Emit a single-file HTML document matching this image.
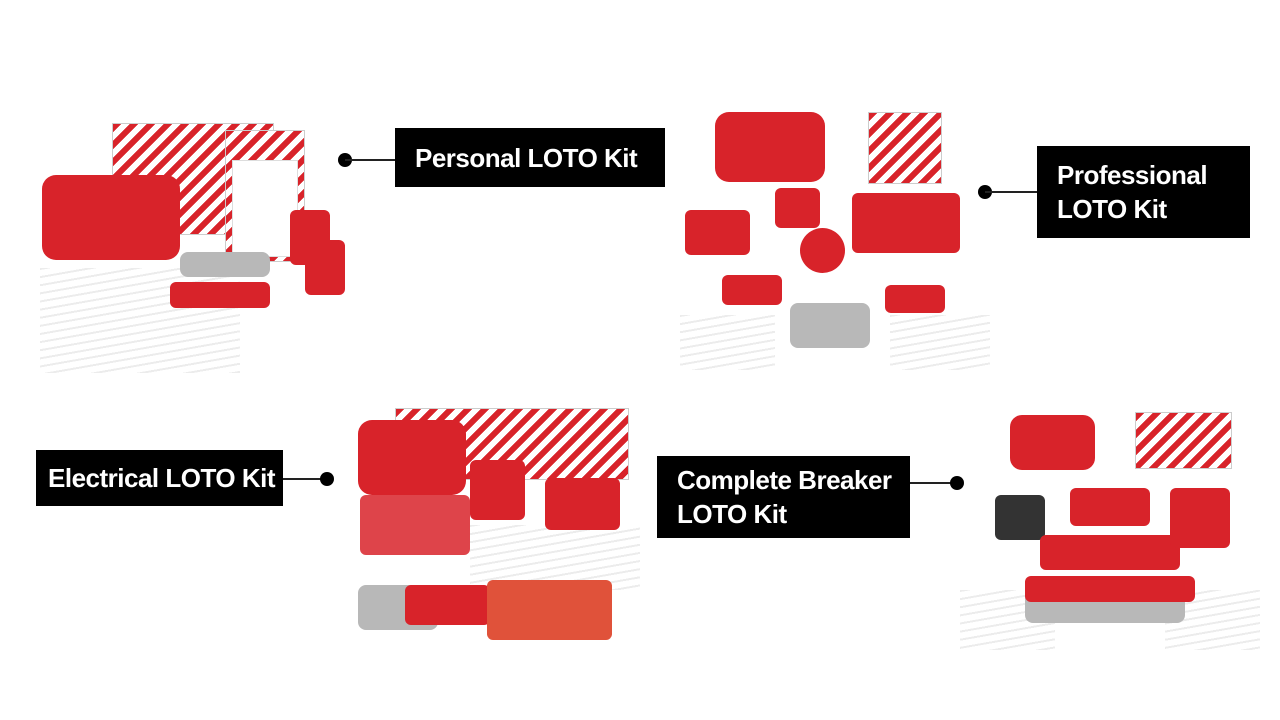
<!DOCTYPE html>
<html><head><meta charset="utf-8"><style>
body{margin:0;width:1280px;height:720px;background:#fff;position:relative;overflow:hidden;font-family:"Liberation Sans",sans-serif}
.lb{position:absolute;background:#000;color:#fff;font-weight:bold;font-size:26px;line-height:34px;box-sizing:border-box;padding-left:20px;display:flex;flex-direction:column;justify-content:center;letter-spacing:-0.5px;white-space:nowrap}
.ln{position:absolute;height:2px;background:#222}
.dot{position:absolute;width:14px;height:14px;border-radius:50%;background:#000}
.r{position:absolute;background:#d8232a;border-radius:6px}
.t{position:absolute;background:repeating-linear-gradient(135deg,#d8232a 0 6px,#fff 6px 12px);border:1px solid #ccc}
.tw{position:absolute;background:#fff;border:1px solid #ddd}
.w{position:absolute;background:repeating-linear-gradient(170deg,#ececec 0 2px,#fff 2px 8px)}
.m{position:absolute;background:#b8b8b8;border-radius:8px}
</style></head><body>
<!-- Personal -->
<div class="t" style="left:112px;top:123px;width:160px;height:110px"></div>
<div class="t" style="left:225px;top:130px;width:78px;height:130px"></div>
<div class="tw" style="left:232px;top:160px;width:64px;height:95px"></div>
<div class="w" style="left:40px;top:268px;width:200px;height:105px"></div>
<div class="r" style="left:42px;top:175px;width:138px;height:85px;border-radius:14px"></div>
<div class="r" style="left:290px;top:210px;width:40px;height:55px"></div>
<div class="r" style="left:305px;top:240px;width:40px;height:55px"></div>
<div class="m" style="left:180px;top:252px;width:90px;height:25px"></div>
<div class="r" style="left:170px;top:282px;width:100px;height:26px"></div>
<div class="dot" style="left:338px;top:153px"></div><div class="ln" style="left:345px;top:159px;width:50px"></div>
<div class="lb" style="left:395px;top:128px;width:270px;height:59px">Personal LOTO Kit</div>
<!-- Professional -->
<div class="r" style="left:715px;top:112px;width:110px;height:70px;border-radius:14px"></div>
<div class="t" style="left:868px;top:112px;width:72px;height:70px"></div>
<div class="r" style="left:685px;top:210px;width:65px;height:45px"></div>
<div class="r" style="left:775px;top:188px;width:45px;height:40px"></div>
<div class="r" style="left:800px;top:228px;width:45px;height:45px;border-radius:50%"></div>
<div class="r" style="left:852px;top:193px;width:108px;height:60px"></div>
<div class="r" style="left:722px;top:275px;width:60px;height:30px"></div>
<div class="m" style="left:790px;top:303px;width:80px;height:45px"></div>
<div class="r" style="left:885px;top:285px;width:60px;height:28px"></div>
<div class="w" style="left:680px;top:315px;width:95px;height:55px"></div>
<div class="w" style="left:890px;top:315px;width:100px;height:55px"></div>
<div class="dot" style="left:978px;top:185px"></div><div class="ln" style="left:985px;top:191px;width:52px"></div>
<div class="lb" style="left:1037px;top:146px;width:213px;height:92px">Professional<br>LOTO Kit</div>
<!-- Electrical -->
<div class="t" style="left:395px;top:408px;width:232px;height:70px"></div>
<div class="w" style="left:470px;top:525px;width:170px;height:65px"></div>
<div class="r" style="left:358px;top:420px;width:108px;height:75px;border-radius:14px"></div>
<div class="r" style="left:470px;top:460px;width:55px;height:60px"></div>
<div class="r" style="left:545px;top:478px;width:75px;height:52px"></div>
<div class="r" style="left:360px;top:495px;width:110px;height:60px;opacity:.85"></div>
<div class="m" style="left:358px;top:585px;width:80px;height:45px"></div>
<div class="r" style="left:405px;top:585px;width:85px;height:40px"></div>
<div class="r" style="left:487px;top:580px;width:125px;height:60px;background:#e0523a"></div>
<div class="lb" style="left:36px;top:450px;width:247px;height:56px;padding-left:12px">Electrical LOTO Kit</div>
<div class="ln" style="left:283px;top:478px;width:44px"></div><div class="dot" style="left:320px;top:472px"></div>
<!-- Complete breaker -->
<div class="w" style="left:960px;top:590px;width:95px;height:60px"></div>
<div class="w" style="left:1165px;top:590px;width:95px;height:60px"></div>
<div class="r" style="left:1010px;top:415px;width:85px;height:55px;border-radius:12px"></div>
<div class="t" style="left:1135px;top:412px;width:95px;height:55px"></div>
<div class="r" style="left:995px;top:495px;width:50px;height:45px;background:#333"></div>
<div class="r" style="left:1070px;top:488px;width:80px;height:38px"></div>
<div class="r" style="left:1040px;top:535px;width:140px;height:35px"></div>
<div class="r" style="left:1170px;top:488px;width:60px;height:60px"></div>
<div class="m" style="left:1025px;top:578px;width:160px;height:45px"></div>
<div class="r" style="left:1025px;top:576px;width:170px;height:26px"></div>
<div class="lb" style="left:657px;top:456px;width:253px;height:82px">Complete Breaker<br>LOTO Kit</div>
<div class="ln" style="left:910px;top:482px;width:47px"></div><div class="dot" style="left:950px;top:476px"></div>
</body></html>
